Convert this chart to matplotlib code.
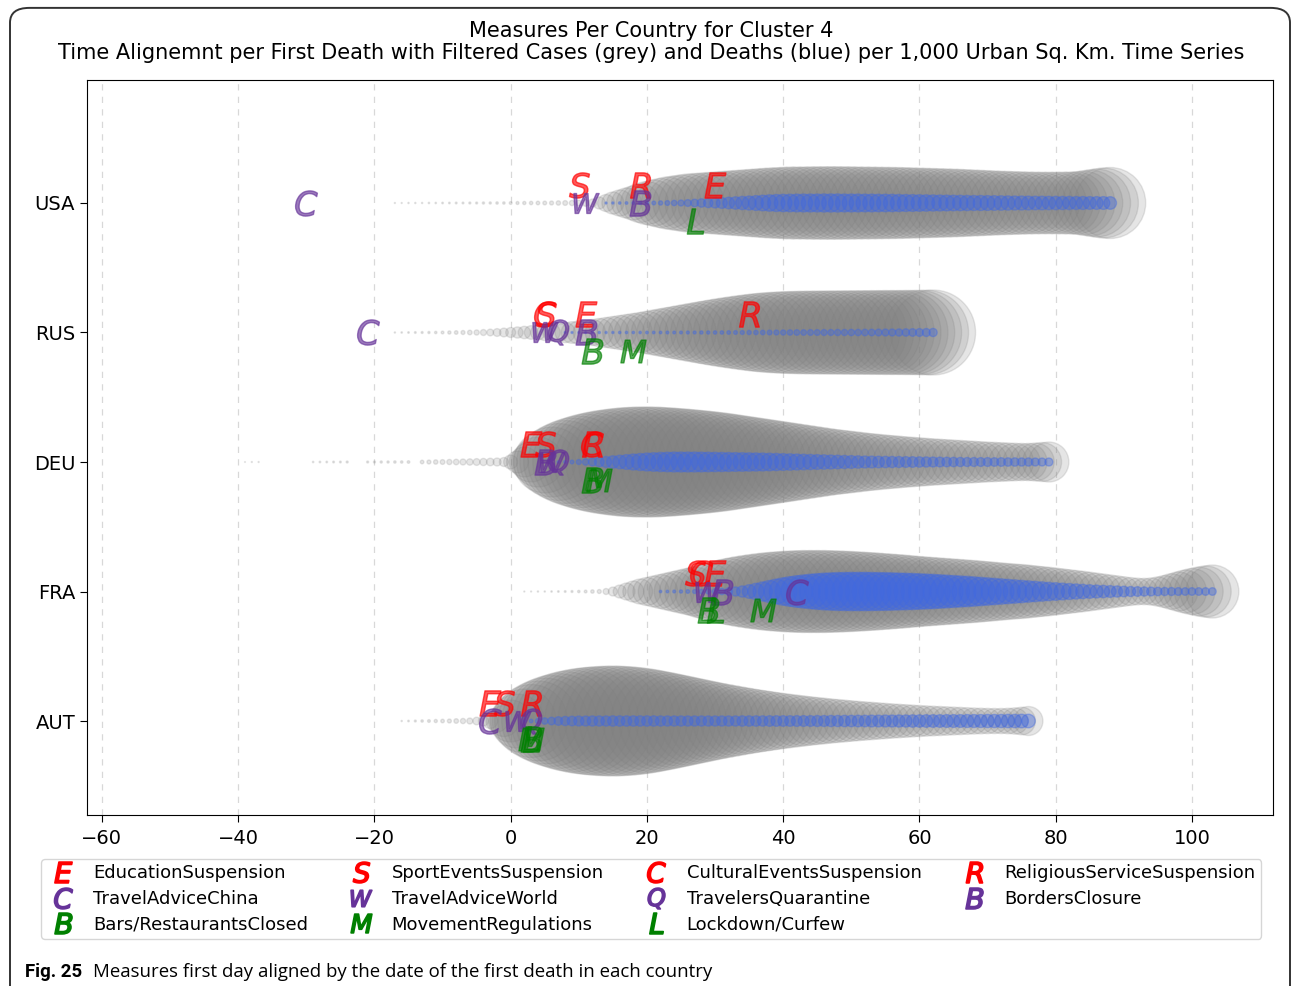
import numpy as np
import matplotlib.pyplot as plt
from matplotlib.lines import Line2D
from matplotlib.patches import FancyBboxPatch

plt.rcParams['font.family'] = ['DejaVu Sans']

countries = ['AUT', 'FRA', 'DEU', 'RUS', 'USA']

# filtered cases (grey) and deaths (blue) per 1,000 urban sq. km, one value per day,
# days counted from the first death in each country
usa_cases_start = -17
usa_cases = [0.5, 0.5, 0.6, 0.6, 0.6, 0.7, 0.7, 0.8, 0.8, 0.9, 0.9, 1.0, 1.0, 1.1, 1.1, 1.2, 1.2,
             1.4, 1.5, 1.6, 1.7, 1.8, 1.9, 2.0, 2.2, 2.4, 2.6, 2.9, 3.3,
             4, 6, 8.5, 11, 13, 15, 17, 19.5, 21.5, 23, 24.5, 26, 27, 28, 29, 29.5, 30, 30.5, 31,
             31.5, 32, 32.5, 33, 33.5, 34, 34.5, 35, 35.3, 35.6,
             36, 36, 36, 36.2, 36.2, 36.3, 36.3, 36.3, 36.2, 36.2, 36, 36, 35.9, 35.8, 35.7, 35.6,
             35.5, 35.3, 35.1, 34.9,
             34.7, 34.5, 34.3, 34.1, 33.9, 33.6, 33.3, 33, 32.7, 32.4, 32.1, 31.8, 31.6, 31.4,
             31.2, 31, 30.9, 30.8, 30.8, 30.8, 30.9, 31, 31.2, 32, 33, 34, 35, 35.5]
usa_deaths_start = 14
usa_deaths = [1.0, 1.1, 1.2, 1.3, 1.4, 1.5,
              1.7, 1.9, 2.1, 2.4, 2.7, 3.0, 3.4, 3.8, 4.2, 4.6,
              5.0, 5.4, 5.8, 6.2, 6.6, 7.0, 7.4, 7.8, 8.2, 8.5,
              8.7, 8.8, 8.9, 9.0, 9.0, 9.0, 9.1, 9.1, 9.1, 9.0, 9.0, 9.0, 8.9, 8.9, 8.8, 8.8,
              8.7, 8.6, 8.5, 8.4, 8.3, 8.2, 8.1, 8.0, 7.9, 7.8, 7.7, 7.6, 7.5, 7.5, 7.4,
              7.3, 7.2, 7.1, 7.0, 7.0, 6.9, 6.8, 6.8, 6.7, 6.7, 6.6, 6.6, 6.5, 6.5, 6.4, 6.4,
              6.4, 6.3]

rus_cases_start = -17
rus_cases = [0.6, 0.7, 0.8, 0.9, 1.0, 1.1, 1.2, 1.4, 1.6, 1.8, 2.0, 2.3,
             2.6, 3.0, 3.4, 3.9, 4.4,
             5.0, 5.6, 6.2, 6.8, 7.4, 8.0, 8.7, 9.4, 10.1, 10.8, 11.6, 12.4,
             13, 14, 15, 16, 17, 18, 19, 20, 21.2, 22.4, 23.6, 24.8, 26, 27.2,
             28.4, 29.6, 30.8, 32, 33.1, 34.2, 35.2, 36.2, 37.1, 38, 38.8, 39.5, 40, 40.4, 40.8,
             41, 41.2, 41.3, 41.4, 41.5, 41.5, 41.6, 41.6, 41.7, 41.7, 41.8, 41.8, 41.9, 41.9,
             42, 42, 42, 42.1, 42.1, 42.2, 42.3, 42.5]
rus_deaths_start = 8
rus_deaths = [1.0, 1.0, 1.0, 1.0, 1.1, 1.1, 1.1, 1.1, 1.2, 1.2, 1.2, 1.2, 1.3,
              1.3, 1.3, 1.4, 1.4, 1.4, 1.5, 1.5, 1.6, 1.6, 1.7, 1.7, 1.8, 1.9,
              2.0, 2.1, 2.2, 2.3, 2.4, 2.5, 2.6, 2.7, 2.8, 2.8, 2.9, 2.9, 3.0, 3.0, 3.1, 3.1, 3.2,
              3.2, 3.3, 3.3, 3.4, 3.5, 3.5, 3.6, 3.7, 3.8, 3.9, 4.0, 4.1]

deu_cases_start = -40
deu_cases = [0, 0.4, 0.5, 0.5, 0, 0, 0, 0, 0, 0, 0,
             0.7, 0.8, 0.8, 0.9, 0.9, 1.0,
             0, 0,
             1.0, 1.0, 1.1, 1.1, 1.2, 1.2, 1.3,
             0,
             1.8, 2.0, 2.2, 2.4, 2.6, 2.8, 3.0, 3.2, 3.4, 3.6, 3.8, 4.0, 4.5,
             7, 11, 15, 20, 25, 31, 35, 38.5, 41.5, 44, 46, 48, 49.5, 51, 52, 53, 53.8, 54.4,
             54.8, 55, 55, 55, 54.6, 54.2, 53.7, 53.2, 52.6, 52, 51.3, 50.6, 49.8, 49,
             48, 47, 46, 45, 44, 43, 42, 41, 40, 39, 38, 37, 36, 35, 34, 33, 32.2, 31.4, 30.6,
             29.8, 29, 28.3, 27.6, 27, 26.4, 25.8, 25.2, 24.7, 24.2, 23.7, 23.2, 22.8, 22.4, 22,
             21.6, 21.2, 20.8, 20.4, 20, 19.7, 19.4, 19.1, 18.8, 18.6, 18.6, 19, 19.5, 20]
deu_deaths_start = 7
deu_deaths = [1.2, 1.5, 1.9,
              2.5, 3.2, 4, 4.8, 5.5, 6.2, 6.8, 7.4, 8, 8.5,
              9, 9.3, 9.6, 9.8, 10, 10, 10, 10, 9.9, 9.8, 9.7, 9.6, 9.5, 9.4, 9.3, 9.2,
              9.1, 9, 8.8, 8.6, 8.4, 8.2, 8, 7.8, 7.6, 7.4, 7.2, 7, 6.8, 6.6, 6.4,
              6.2, 6, 5.9, 5.8, 5.7, 5.6, 5.5, 5.4, 5.3, 5.2, 5.1, 5, 4.9, 4.8, 4.7,
              4.6, 4.5, 4.5, 4.4, 4.4, 4.3, 4.3, 4.2, 4.2, 4.1, 4.1, 4, 4, 4]

fra_cases_start = 2
fra_cases = [0.5, 0.5, 0.6, 0.6, 0.7, 0.8, 0.9, 1.0, 1.2, 1.4, 1.7, 2.0,
             3, 4.5, 6.5, 8.5, 10.5, 12.5, 14, 15.5, 17, 18.5, 20, 21.5, 23, 24.5, 26.5, 28.3,
             30, 31.5, 33, 34.3, 35.5, 36.5, 37.5, 38.3, 39, 39.6, 40.1, 40.5, 40.8, 41,
             41, 41, 41, 40.8, 40.6, 40.3, 40, 39.6, 39.2, 38.8, 38.3, 37.8, 37.3, 36.8, 36.2,
             35.6, 35, 34.5, 34, 33.5, 33, 32.5, 32, 31.5, 31, 30.4, 29.8, 29.2, 28.6, 28,
             27.5, 27, 26.3, 25.6, 24.9, 24.2, 23.4, 22.6, 21.8, 21, 20.2, 19.3, 18.4, 17.5,
             16.6, 15.7, 14.8, 14, 13.4, 13.2, 13.6, 14.6, 16, 17.8, 19.6, 21.4, 23, 24.4,
             25.6, 26.5]
fra_deaths_start = 22
fra_deaths = [1.2, 1.3, 1.4, 1.6, 1.8, 2.0, 2.2, 2.5, 2.8,
              3.2, 3.8, 4.6, 5.6, 6.8, 8.2, 9.6, 11, 12.4, 13.7, 14.8, 15.8, 16.6, 17.3, 17.9, 18.4,
              18.7, 19, 19.1, 19.2, 19.2, 19.2, 19.1, 19, 18.9, 18.7, 18.5, 18.3, 18.1, 17.8,
              17.5, 17.2,
              16.8, 16.4, 16, 15.6, 15.2, 14.7, 14.2, 13.7, 13.2, 12.7, 12.2, 11.7, 11.2, 10.7,
              10.2, 9.7, 9.2, 8.8,
              8.4, 8, 7.6, 7.2, 6.8, 6.5, 6.2, 5.9, 5.6, 5.3, 5, 4.8, 4.6, 4.4, 4.2, 4.1, 4,
              3.9, 3.8, 3.8, 3.8, 3.8, 3.8]

aut_cases_start = -16
aut_cases = [0.6, 0.8, 1.0, 1.2, 1.4, 1.6, 1.8, 2.0, 2.3, 2.6, 3.0,
             3.8, 5, 7.5, 11, 15.5, 21, 27, 32, 36.5, 40, 43, 45.5, 47.5, 49.5, 51, 52.3, 53.3,
             54, 54.5, 54.8, 55,
             54.8, 54.4, 53.8, 53, 52, 50.8, 49.5, 48.2, 46.8, 45.4, 44, 42.6, 41.2, 39.8, 38.5,
             37.2, 36, 34.8, 33.6, 32.5, 31.4, 30.4, 29.4, 28.4, 27.5, 26.6, 25.8, 25, 24.2, 23.5,
             22.8, 22.1, 21.5, 20.9, 20.3, 19.7, 19.2, 18.7, 18.2, 17.7, 17.2, 16.8, 16.4, 16,
             15.6, 15.2, 14.9, 14.6, 14.3, 14, 13.7, 13.4, 13.1, 12.9, 12.7, 12.6, 12.6, 12.8,
             13.2, 13.8, 14.5]
aut_deaths_start = 2
aut_deaths = [1.2, 1.8, 2.5, 3.2, 3.8, 4.3, 4.6, 4.8,
              5.0, 5.0, 5.1, 5.1, 5.1, 5.2, 5.2, 5.2, 5.2, 5.2, 5.2, 5.2, 5.1, 5.1, 5.1, 5.1,
              5.1, 5.1, 5.1, 5.1, 5.1, 5.1, 5.1, 5.1, 5.2, 5.2, 5.2, 5.2, 5.3, 5.3, 5.3, 5.3,
              5.4, 5.4, 5.4, 5.5,
              5.5, 5.6, 5.6, 5.7, 5.7, 5.8, 5.8, 5.9, 5.9, 6.0, 6.0, 6.1, 6.1, 6.2, 6.2, 6.3,
              6.3, 6.3, 6.4, 6.4, 6.4, 6.5, 6.5, 6.5, 6.6, 6.6, 6.6, 6.7, 6.7, 6.8, 6.8]

# measures: legend order is column by column
measure_names = ['EducationSuspension', 'TravelAdviceChina', 'Bars/RestaurantsClosed',
                 'SportEventsSuspension', 'TravelAdviceWorld', 'MovementRegulations',
                 'CulturalEventsSuspension', 'TravelersQuarantine', 'Lockdown/Curfew',
                 'ReligiousServiceSuspension', 'BordersClosure']
measure_letters = ['E', 'C', 'B', 'S', 'W', 'M', 'C', 'Q', 'L', 'R', 'B']
measure_kind = ['events', 'travel', 'mobility', 'events', 'travel', 'mobility',
                'events', 'travel', 'mobility', 'events', 'travel']

# first day of each measure per country
usa_measures = ['TravelAdviceChina', 'SportEventsSuspension', 'TravelAdviceWorld',
                'ReligiousServiceSuspension', 'BordersClosure', 'Lockdown/Curfew',
                'EducationSuspension']
usa_measure_days = [-30, 10, 11, 19, 19, 27, 30]

rus_measures = ['TravelAdviceChina', 'SportEventsSuspension', 'CulturalEventsSuspension',
                'TravelAdviceWorld', 'TravelersQuarantine', 'EducationSuspension',
                'BordersClosure', 'Bars/RestaurantsClosed', 'MovementRegulations',
                'ReligiousServiceSuspension']
rus_measure_days = [-21, 5, 5, 5, 7, 11, 11, 12, 18, 35]

deu_measures = ['EducationSuspension', 'SportEventsSuspension', 'BordersClosure',
                'TravelAdviceWorld', 'TravelersQuarantine', 'CulturalEventsSuspension',
                'ReligiousServiceSuspension', 'Bars/RestaurantsClosed', 'MovementRegulations']
deu_measure_days = [3, 5, 5, 6, 7, 12, 12, 12, 13]

fra_measures = ['SportEventsSuspension', 'CulturalEventsSuspension', 'EducationSuspension',
                'TravelAdviceWorld', 'BordersClosure', 'TravelAdviceChina',
                'Bars/RestaurantsClosed', 'Lockdown/Curfew', 'MovementRegulations']
fra_measure_days = [27, 28, 30, 29, 31, 42, 29, 30, 37]

aut_measures = ['EducationSuspension', 'SportEventsSuspension', 'ReligiousServiceSuspension',
                'TravelAdviceChina', 'TravelAdviceWorld', 'TravelersQuarantine',
                'Bars/RestaurantsClosed', 'MovementRegulations', 'Lockdown/Curfew']
aut_measure_days = [-3, -1, 3, -3, 1, 3, 3, 3, 3]

series = {
    'USA': (usa_cases_start, usa_cases, usa_deaths_start, usa_deaths, usa_measures, usa_measure_days),
    'RUS': (rus_cases_start, rus_cases, rus_deaths_start, rus_deaths, rus_measures, rus_measure_days),
    'DEU': (deu_cases_start, deu_cases, deu_deaths_start, deu_deaths, deu_measures, deu_measure_days),
    'FRA': (fra_cases_start, fra_cases, fra_deaths_start, fra_deaths, fra_measures, fra_measure_days),
    'AUT': (aut_cases_start, aut_cases, aut_deaths_start, aut_deaths, aut_measures, aut_measure_days),
}

kind_color = {'events': 'red', 'travel': 'rebeccapurple', 'mobility': 'green'}
kind_offset = {'events': 0.14, 'travel': 0.0, 'mobility': -0.14}
SIZE_K = 1.44  # marker diameter in points per unit of value


def sizes(values):
    return (SIZE_K * np.asarray(values, dtype=float)) ** 2


fig = plt.figure(figsize=(12.92, 9.86), dpi=100)
ax = fig.add_axes([0.0673, 0.1734, 0.918, 0.7455])

for row, country in enumerate(countries):
    c0, cases, d0, deaths, names, days = series[country]
    cx = np.arange(c0, c0 + len(cases))
    ax.scatter(cx, np.full(len(cx), row), s=sizes(cases), color='grey', alpha=0.2, zorder=2)
    dx = np.arange(d0, d0 + len(deaths))
    ax.scatter(dx, np.full(len(dx), row), s=sizes(deaths), color='royalblue', alpha=0.4, zorder=3)
    for name, day in zip(names, days):
        i = measure_names.index(name)
        kind = measure_kind[i]
        ax.scatter([day], [row + kind_offset[kind]], marker='$%s$' % measure_letters[i],
                   s=330, color=kind_color[kind], alpha=0.65, zorder=4)

ax.set_xlim(-62.2, 111.9)
ax.set_ylim(-0.726, 4.95)
ax.set_xticks(np.arange(-60, 101, 20))
ax.set_yticks(range(len(countries)))
ax.set_yticklabels(countries)
ax.tick_params(labelsize=14, length=5)
ax.tick_params(axis='x', pad=5)
ax.set_axisbelow(True)
ax.grid(axis='x', color='#d8d8d8', linestyle=(0, (5, 5)), linewidth=0.9)

fig.text(0.504, 0.979,
         'Measures Per Country for Cluster 4\n'
         'Time Alignemnt per First Death with Filtered Cases (grey) and Deaths (blue) '
         'per 1,000 Urban Sq. Km. Time Series',
         ha='center', va='top', fontsize=15, linespacing=1.15)

handles = [Line2D([], [], linestyle='none', marker='$%s$' % l, markersize=15,
                  color=kind_color[k], markeredgewidth=1.2)
           for l, k in zip(measure_letters, measure_kind)]
fig.legend(handles, measure_names, loc='upper center', bbox_to_anchor=(0.504, 0.138),
           ncol=4, fontsize=13, handletextpad=0.8, columnspacing=2.0, borderpad=0.3,
           labelspacing=0.42, handlelength=1.8)

fig.text(0.019, 0.009, 'Fig. 25', fontsize=13.4, fontweight='bold', family='Roboto')
fig.text(0.072, 0.009, 'Measures first day aligned by the date of the first death in each country',
         fontsize=13.4, family='Open Sans')

frame = FancyBboxPatch((10 / 1292, -0.2), 1280 / 1292, 1.192, transform=fig.transFigure,
                       boxstyle='round,pad=0,rounding_size=0.015', fill=False,
                       edgecolor='#333333', linewidth=1.4, clip_on=True)
fig.patches.append(frame)

fig.savefig('out.png', dpi=100)
